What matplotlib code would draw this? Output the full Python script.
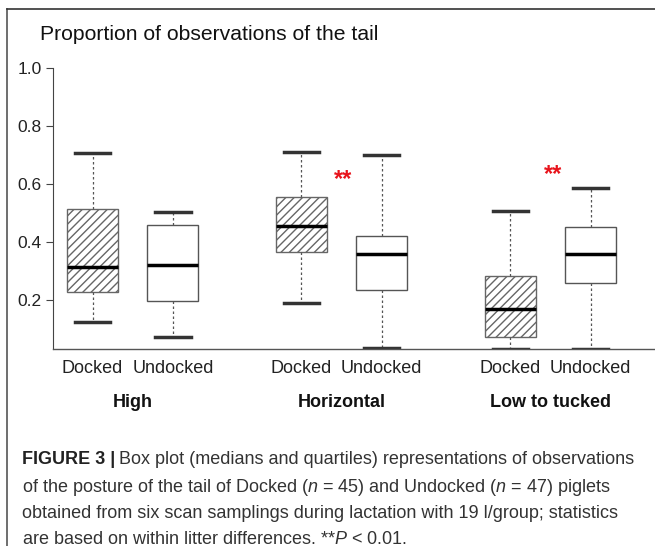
import matplotlib
matplotlib.use("Agg")
import matplotlib.pyplot as plt
from matplotlib.lines import Line2D

plt.rcParams['font.family'] = ['Liberation Sans', 'DejaVu Sans']
plt.rcParams['mathtext.fontset'] = 'custom'
plt.rcParams['mathtext.rm'] = 'Liberation Sans'
plt.rcParams['mathtext.it'] = 'Liberation Sans:italic'
plt.rcParams['hatch.linewidth'] = 1.0

# data
groups = ["High", "Horizontal", "Low to tucked"]
tails = ["Docked", "Undocked", "Docked", "Undocked", "Docked", "Undocked"]
positions = [1, 2, 3.6, 4.6, 6.2, 7.2]
whis_lo = [0.124, 0.072, 0.190, 0.034, 0.031, 0.031]
q1 = [0.228, 0.197, 0.366, 0.234, 0.072, 0.259]
med = [0.314, 0.321, 0.455, 0.359, 0.169, 0.359]
q3 = [0.514, 0.459, 0.555, 0.421, 0.283, 0.452]
whis_hi = [0.707, 0.503, 0.710, 0.700, 0.507, 0.586]
star_x = [4.12, 6.73]
star_y = [0.615, 0.632]

stats = []
for i in range(len(tails)):
    stats.append({"med": med[i], "q1": q1[i], "q3": q3[i],
                  "whislo": whis_lo[i], "whishi": whis_hi[i], "fliers": []})

fig = plt.figure(figsize=(6.55, 5.46), dpi=100)
ax = fig.add_axes([53/655, 1-349/546, 1-53/655, (349-68)/546])

bp = ax.bxp(stats, positions=positions, widths=0.635, patch_artist=True,
            showfliers=False, capwidths=0.44,
            boxprops=dict(edgecolor='#555555', linewidth=1.0),
            whiskerprops=dict(color='#555555', linewidth=0.9, linestyle=(0, (2, 2))),
            capprops=dict(color='#333333', linewidth=2.5),
            medianprops=dict(color='black', linewidth=2.5))
for box, t in zip(bp['boxes'], tails):
    box.set_facecolor('white')
    if t == "Docked":
        box.set_edgecolor('#666666')
        box.set_hatch('////')

for x, y in zip(star_x, star_y):
    ax.text(x, y, "**", color='#e8141c', fontsize=17, fontweight='bold',
            ha='center', va='center')

ax.set_xlim(0.508, 8.0)
ax.set_ylim(0.031, 1.0)
ax.set_yticks([0.2, 0.4, 0.6, 0.8, 1.0])
ax.set_yticklabels(["0.2", "0.4", "0.6", "0.8", "1.0"])
ax.set_xticks(positions)
ax.set_xticklabels(tails)
ax.tick_params(axis='x', length=0, pad=8, labelsize=13, labelcolor='#222222')
ax.tick_params(axis='y', length=5, width=0.8, color='#444444', pad=3,
               labelsize=12.5, labelcolor='#222222')
ax.spines['top'].set_visible(False)
ax.spines['right'].set_visible(False)
ax.spines['left'].set_color('#444444')
ax.spines['bottom'].set_color('#555555')
ax.spines['left'].set_linewidth(0.8)
ax.spines['bottom'].set_linewidth(1.0)

for g, i in zip(groups, range(3)):
    xc = (positions[2*i] + positions[2*i+1]) / 2
    ax.text(xc, -0.19, g, transform=ax.get_xaxis_transform(), ha='center',
            va='center', fontsize=13, fontweight='bold', color='#111111')

fig.text(40/655, 1-35/546, "Proportion of observations of the tail",
         fontsize=15.2, va='center', ha='left', color='#111111')

# frame around the chart
fig.add_artist(Line2D([7/655, 7/655], [0, 1-9/546], color='#555555', lw=1.2))
fig.add_artist(Line2D([7/655, 1], [1-9/546, 1-9/546], color='#333333', lw=1.2))

cap_font = ['Liberation Sans', 'DejaVu Sans']
cap_y = [460, 487, 514, 539]
cap_lines = [
    "Box plot (medians and quartiles) representations of observations",
    "of the posture of the tail of Docked ($n$ = 45) and Undocked ($n$ = 47) piglets",
    "obtained from six scan samplings during lactation with 19 l/group; statistics",
    "are based on within litter differences. **$P$ < 0.01.",
]
head = fig.text(22/655, 1-cap_y[0]/546, "FIGURE 3 |", fontsize=13, fontweight='bold',
                family=cap_font, color='#222222', va='center', ha='left')
fig.canvas.draw()
bb = head.get_window_extent()
fig.text((bb.x1 + 4)/655, 1-cap_y[0]/546, cap_lines[0], fontsize=13,
         family=cap_font, color='#333333', va='center', ha='left')
for line, y in zip(cap_lines[1:], cap_y[1:]):
    fig.text(22/655, 1-y/546, line, fontsize=13, family=cap_font,
             color='#333333', va='center', ha='left')

fig.savefig("out.png", dpi=100)
